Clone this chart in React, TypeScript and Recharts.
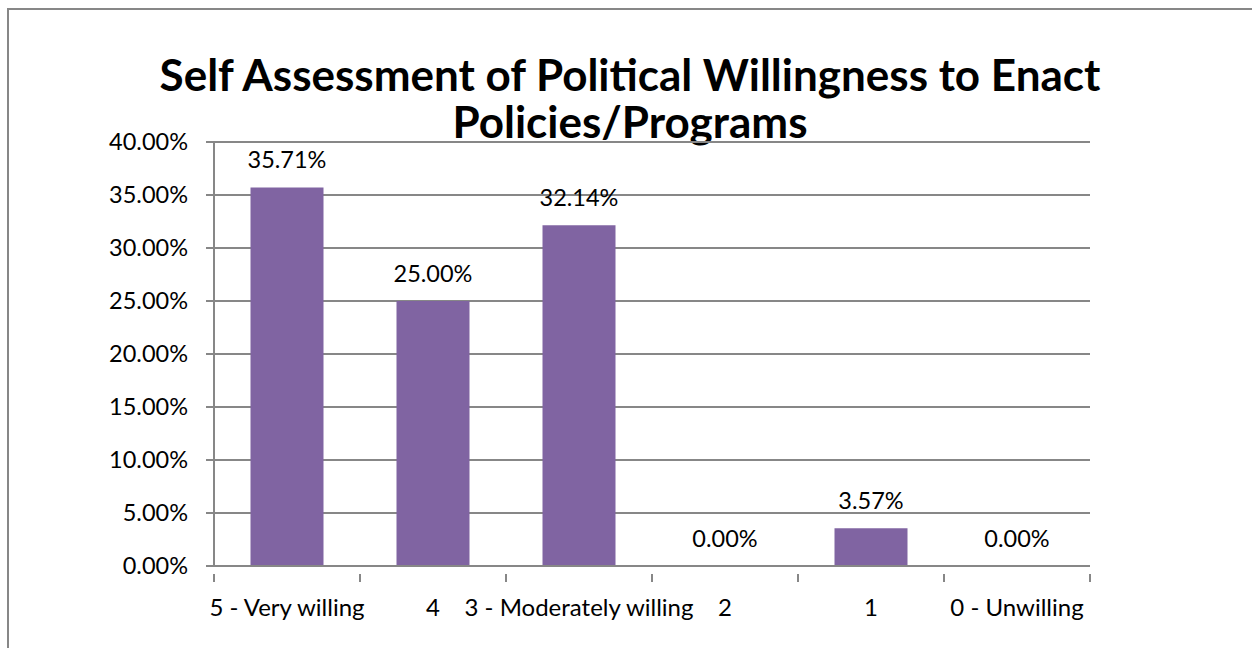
import React from 'react';
import { ComposedChart, Bar, Line, XAxis, YAxis, CartesianGrid, LabelList } from 'recharts';

const categories = ['5 - Very willing', '4', '3 - Moderately willing', '2', '1', '0 - Unwilling'];
const shares = [35.71, 25.0, 32.14, 0.0, 3.57, 0.0];
const yTicks = [0, 5, 10, 15, 20, 25, 30, 35, 40];

const data = categories.map((name, i) => ({ name, value: shares[i] }));

const W = 1252;
const H = 648;
const PLOT_LEFT = 214;
const PLOT_RIGHT = 1090;
const PLOT_TOP = 142;
const PLOT_BOTTOM = 566;
const BAND = (PLOT_RIGHT - PLOT_LEFT) / categories.length;
const FONT = 'Lato, "Open Sans", sans-serif';
const GRID = '#878787';
const LABEL_SIZE = 23.5;

const pct = (v: number) => `${v.toFixed(2)}%`;

const CategoryTick = (props: any) => {
  const { x, y, payload, index } = props;
  const left = x - BAND / 2;
  const right = x + BAND / 2;
  return (
    <g>
      <line x1={left} x2={left} y1={y} y2={y + 8} stroke={GRID} strokeWidth={2} />
      {index === categories.length - 1 && (
        <line x1={right} x2={right} y1={y} y2={y + 8} stroke={GRID} strokeWidth={2} />
      )}
      <text x={x} y={y + 36} textAnchor="middle" dominantBaseline="middle" fill="#000" fontSize={24} fontFamily={FONT}>
        {payload.value}
      </text>
    </g>
  );
};

export default function App() {
  return (
    <div style={{ position: 'absolute', left: 0, top: 0, width: W, height: H, background: '#fff', overflow: 'hidden' }}>
      <div
        style={{
          position: 'absolute',
          left: 7,
          top: 8,
          width: W + 20,
          height: H + 20,
          borderLeft: `2px solid ${GRID}`,
          borderTop: `2px solid ${GRID}`,
        }}
      />
      <div
        style={{
          position: 'absolute',
          left: 0,
          top: 51,
          width: 1260,
          textAlign: 'center',
          fontFamily: FONT,
          fontWeight: 700,
          fontSize: 44,
          lineHeight: '47px',
          color: '#000',
        }}
      >
        Self Assessment of Political Willingness to Enact
        <br />
        Policies/Programs
      </div>
      <div style={{ position: 'absolute', left: 0, top: 0 }}>
        <ComposedChart
          width={W}
          height={H}
          data={data}
          margin={{ top: PLOT_TOP, right: W - PLOT_RIGHT, bottom: 0, left: 0 }}
          barCategoryGap="25%"
        >
          <CartesianGrid vertical={false} stroke={GRID} strokeWidth={2} />
          <XAxis
            dataKey="name"
            axisLine={{ stroke: GRID, strokeWidth: 2 }}
            tickLine={false}
            interval={0}
            tick={<CategoryTick />}
            height={H - PLOT_BOTTOM}
          />
          <YAxis
            width={PLOT_LEFT}
            domain={[0, 40]}
            ticks={yTicks}
            interval={0}
            tickFormatter={pct}
            axisLine={{ stroke: GRID, strokeWidth: 2 }}
            tickLine={{ stroke: GRID, strokeWidth: 2 }}
            tickSize={8}
            tickMargin={18}
            tick={{ fill: '#000', fontSize: LABEL_SIZE, fontFamily: FONT }}
          />
          <Bar dataKey="value" fill="#8064A2" isAnimationActive={false} />
          <Line
            dataKey="value"
            stroke="none"
            dot={false}
            activeDot={false}
            legendType="none"
            isAnimationActive={false}
          >
            <LabelList
              dataKey="value"
              position="top"
              offset={19}
              formatter={(v: any) => pct(Number(v))}
              style={{ fill: '#000', fontSize: LABEL_SIZE, fontFamily: FONT }}
            />
          </Line>
        </ComposedChart>
      </div>
    </div>
  );
}
